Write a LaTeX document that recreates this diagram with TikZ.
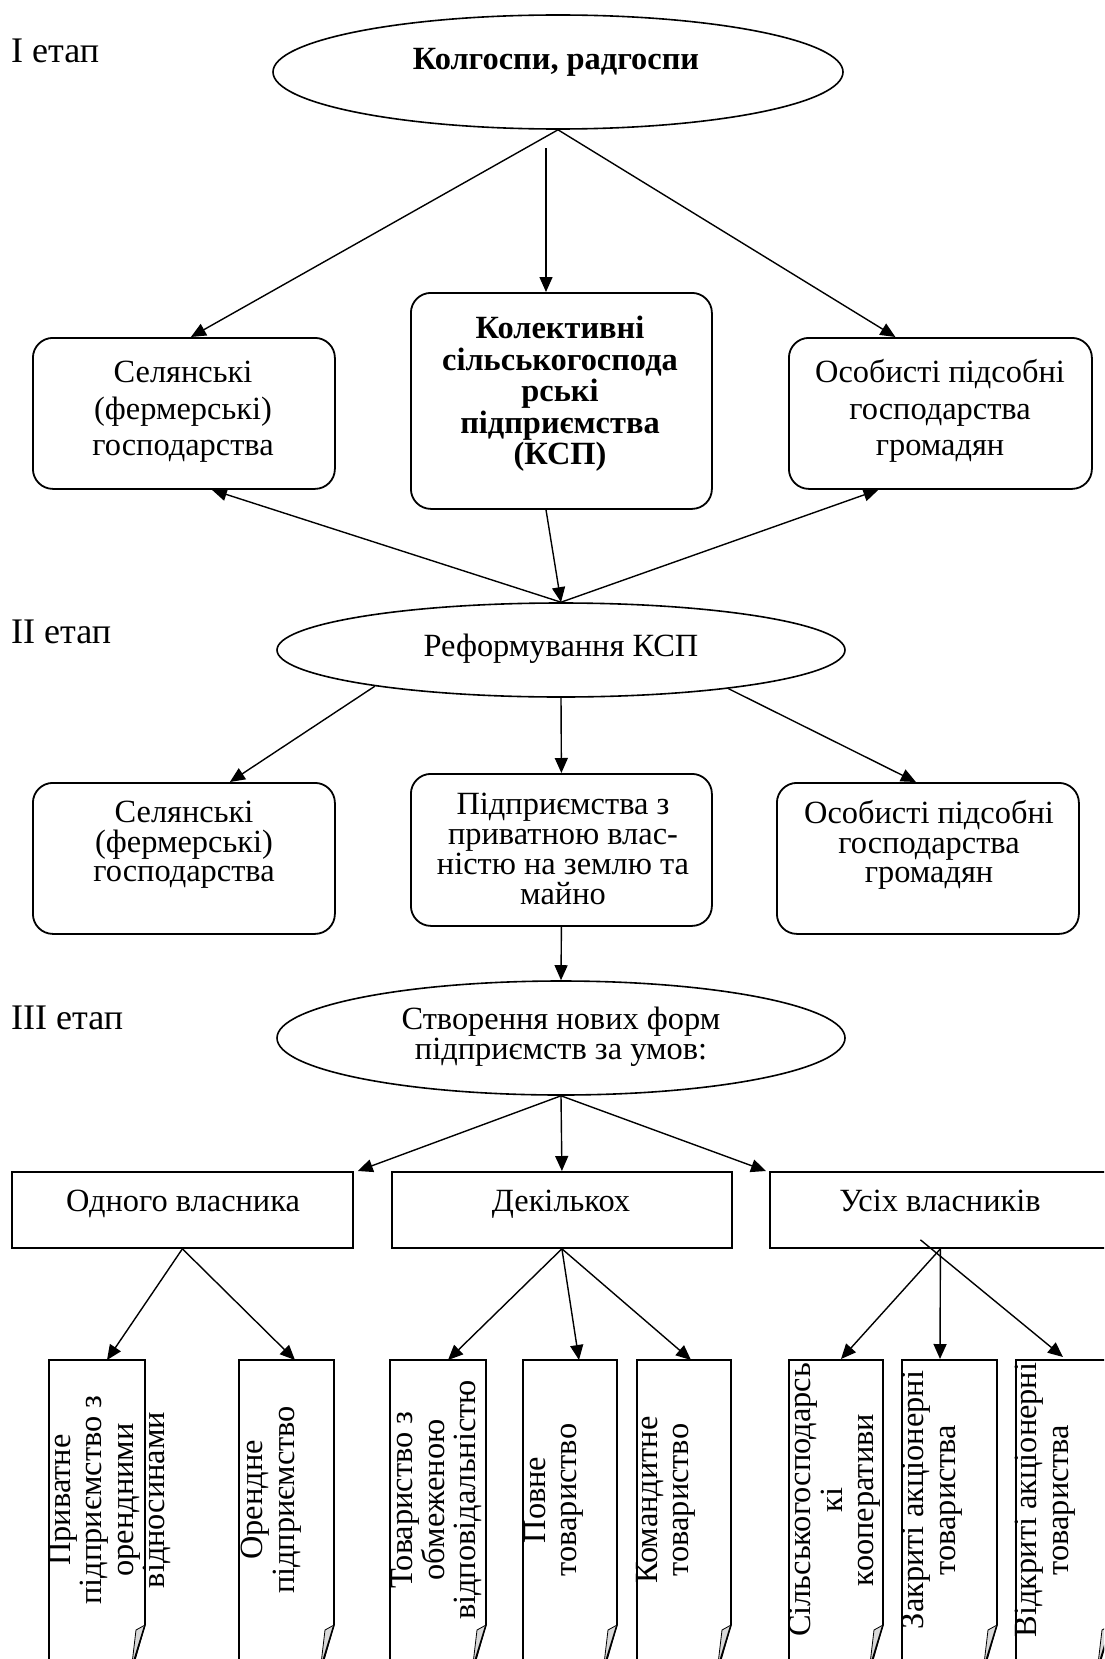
\documentclass[tikz,border=0pt]{standalone}
\usepackage{fontspec}
\setmainfont{Liberation Serif}
\usetikzlibrary{arrows.meta,shapes.geometric,calc}
\newcommand\bodyfont[1]{\fontsize{32.4}{#1}\selectfont\lineskiplimit=-100pt }
\tikzset{
  rbox/.style={draw, line width=1.8pt, rounded corners=20pt, inner sep=0pt, anchor=north west},
  sbox/.style={draw, line width=1.8pt, inner sep=0pt, anchor=north west},
  oval/.style={draw, ellipse, line width=1.6pt, inner sep=0pt},
  conn/.style={line width=1.4pt, -{Triangle[length=15pt,width=13pt]}},
  lbl/.style={font=\fontsize{36}{40}\selectfont, inner sep=0pt, anchor=base west},
  ttext/.style={align=center, inner sep=0pt},
  rtext/.style={font=\bodyfont{31.5}, align=center, inner sep=0pt, rotate=90},
}
\newcommand\foldbox[2]{%
  \draw[line width=1.8pt] (#2,1625) -- (#2,1360) -- (#1,1360) -- (#1,1700);
  \filldraw[fill=gray!30, line width=0.8pt] (#2,1625) -- (#2-9,1630) -- (#2-13,1664) -- (#2-11,1664) -- cycle;
  \draw[line width=1.6pt] (#2,1625) -- (#2-12,1664);
}
\begin{document}
\begin{tikzpicture}[x=1pt,y=-1pt]
\useasboundingbox (0,0) rectangle (1104,1659);
\clip (0,0) rectangle (1104,1659);

% stage labels
\node[lbl] (s1) at (11,63) {I етап};
\node[lbl] (s2) at (11,643) {II етап};
\node[lbl] (s3) at (11,1029) {III етап};

% ellipses
\node[oval, minimum width=570pt, minimum height=114pt] (e1) at (558,72) {};
\node[font=\bodyfont{36}\bfseries, inner sep=0pt, anchor=base] (e1t) at (556,70) {Колгоспи, радгоспи};
\node[oval, minimum width=568pt, minimum height=94pt] (e2) at (561,650) {};
\node[font=\bodyfont{36}, inner sep=0pt, anchor=base] (e2t) at (561,656) {Реформування КСП};
\node[oval, minimum width=568pt, minimum height=114pt] (e3) at (561,1038) {};
\node[ttext, font=\bodyfont{30}] (e3t) at (561,1037) {Створення нових форм\\підприємств за умов:};

% stage 1 boxes
\node[rbox, minimum width=302pt, minimum height=151pt] (l1) at (32,337) {};
\node[ttext, font=\bodyfont{36.5}] (l1t) at (183,412) {Селянські\\(фермерські)\\господарства};
\node[rbox, minimum width=301pt, minimum height=216pt] (m1) at (410,292) {};
\node[ttext, font=\bodyfont{31.5}\bfseries] (m1t) at (560,394) {Колективні\\сільськогоспода\\рські\\підприємства\\(КСП)};
\node[rbox, minimum width=303pt, minimum height=151pt] (r1) at (788,337) {};
\node[ttext, font=\bodyfont{36.5}] (r1t) at (940,411) {Особисті підсобні\\господарства\\громадян};

% stage 2 boxes
\node[rbox, minimum width=302pt, minimum height=151pt] (l2) at (32,782) {};
\node[ttext, font=\bodyfont{29.5}] (l2t) at (184,845) {Селянські\\(фермерські)\\господарства};
\node[rbox, minimum width=301pt, minimum height=152pt] (m2) at (410,773) {};
\node[ttext, font=\bodyfont{30}] (m2t) at (563,849) {Підприємства з\\приватною влас-\\ністю на землю та\\майно};
\node[rbox, minimum width=302pt, minimum height=151pt] (r2) at (776,782) {};
\node[ttext, font=\bodyfont{29.5}] (r2t) at (929,845) {Особисті підсобні\\господарства\\громадян};

% stage 3 boxes
\node[sbox, minimum width=341pt, minimum height=76pt] (a) at (11,1171) {};
\node[font=\bodyfont{36}, inner sep=0pt, anchor=base] (at) at (183,1211) {Одного власника};
\node[sbox, minimum width=340pt, minimum height=76pt] (b) at (391,1171) {};
\node[font=\bodyfont{36}, inner sep=0pt, anchor=base] (bt) at (561,1211) {Декількох};
\node[sbox, minimum width=341pt, minimum height=76pt] (c) at (769,1171) {};
\node[font=\bodyfont{36}, inner sep=0pt, anchor=base] (ct) at (940,1211) {Усіх власників};

% bottom folded boxes
\foldbox{49}{145}
\foldbox{239}{334}
\foldbox{390}{486}
\foldbox{523}{617}
\foldbox{637}{731}
\foldbox{789}{883}
\foldbox{902}{997}
\foldbox{1016}{1111}
\coordinate (b1) at (107,1360);
\coordinate (b2) at (295,1360);
\coordinate (b3) at (448,1360);
\coordinate (b4) at (579,1360);
\coordinate (b5) at (691,1360);
\coordinate (b6) at (841,1359);
\coordinate (b7) at (940,1359);
\coordinate (b8) at (1063,1357);
\node[rtext] (t1) at (110,1500) {Приватне\\підприємство з\\орендними\\відносинами};
\node[rtext] (t2) at (271,1500) {Орендне\\підприємство};
\node[rtext] (t3) at (437,1500) {Товариство з\\обмеженою\\відповідальністю};
\node[rtext] (t4) at (554,1500) {Повне\\товариство};
\node[rtext] (t5) at (666,1500) {Командитне\\товариство};
\node[rtext] (t6) at (835,1500) {Сільськогосподарсь\\кі\\кооперативи};
\node[rtext] (t7) at (932,1500) {Закриті акціонерні\\товариства};
\node[rtext] (t8) at (1045,1500) {Відкриті акціонерні\\товариства};

% connectors stage 1
\coordinate (m1in) at (546,148);
\draw[conn] (e1.south) -- ($(l1.north)+(7,0)$);
\draw[conn] (e1.south) -- ($(r1.north)+(-45,0)$);
\draw[conn] (m1in) -- (m1in |- m1.north);
\draw[conn] (m1.south -| m1in) -- (e2.north);
\draw[conn] (e2.north) -- ($(l1.south)+(28,0)$);
\draw[conn] (e2.north) -- ($(r1.south)+(-62,0)$);
% stage 2
\draw[conn] (e2.191) -- ($(l2.north)+(46,0)$);
\draw[conn] (e2.south) -- (m2.north);
\draw[conn] (e2.347) -- ($(r2.north)+(-12,0)$);
\draw[conn] (m2.south) -- (e3.north);
% stage 3
\draw[conn] (e3.south) -- ($(a.north east)+(4,0)$);
\draw[conn] (e3.south) -- (b.north);
\draw[conn] (e3.south) -- ($(c.north west)+(-3,0)$);
% stage 4
\draw[conn] (a.south) -- (b1);
\draw[conn] (a.south) -- (b2);
\draw[conn] (b.south) -- (b3);
\draw[conn] (b.south) -- (b4);
\draw[conn] (b.south) -- (b5);
\draw[conn] (c.south) -- (b6);
\draw[conn] (c.south) -- (b7);
\draw[conn] ($(c.south)+(-20,-9)$) -- (b8);
\end{tikzpicture}
\end{document}
